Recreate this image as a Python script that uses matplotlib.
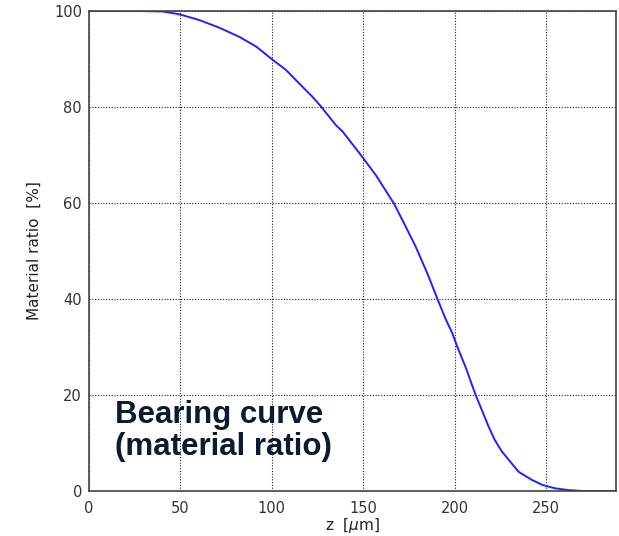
import matplotlib
matplotlib.use('Agg')
import matplotlib.pyplot as plt

z = [0, 28, 40.5, 49.6, 60.5, 71.4, 82.3, 91.4, 99.6, 107.8, 115, 122.3,
     126.9, 135.1, 138.7, 148.7, 156.9, 166.8, 173.2, 178.7, 185, 190.5,
     195, 198.6, 201.4, 205.9, 211.4, 218.6, 222, 225.9, 235, 242.3, 248.1,
     255, 262, 270, 289]
ratio = [100, 100, 99.9, 99.3, 98.1, 96.5, 94.6, 92.6, 90.1, 87.7, 84.9,
         82.1, 80.1, 76.2, 74.9, 70.0, 65.8, 59.9, 55.1, 50.9, 45.4, 40.1,
         35.9, 33.0, 30.1, 25.9, 20.1, 13.4, 10.6, 8.2, 4.0, 2.3, 1.25,
         0.56, 0.2, 0.0, 0.0]
xticks = [0, 50, 100, 150, 200, 250]
yticks = [0, 20, 40, 60, 80, 100]

fig = plt.figure(figsize=(6.19, 5.36), dpi=100)
ax = fig.add_axes([89 / 619, 45 / 536, 526.5 / 619, 480 / 536])

ax.plot(z, ratio, color='#2222ff', lw=1.4)
ax.set_xlim(0, 288)
ax.set_ylim(0, 100)
ax.set_xticks(xticks)
ax.set_yticks(yticks)
ax.grid(True, color='#222222', linestyle=(0, (1, 1.5)), lw=0.8)
ax.tick_params(length=0, labelsize=10.5, colors='#333333')
ax.tick_params(axis='x', pad=7)
ax.tick_params(axis='y', pad=5)
for s in ax.spines.values():
    s.set_color('#444444')
    s.set_linewidth(1.2)

ax.set_xlabel(r'z  [$\mu$m]', fontsize=11, color='#222222', labelpad=0)
ax.set_ylabel('Material ratio  [%]', fontsize=11, color='#222222', labelpad=9)

fig.text(115 / 619, 1 - 423 / 536, 'Bearing curve', fontsize=22.5,
         fontweight='bold', family='Liberation Sans', color='#0b1c30',
         va='baseline', ha='left')
fig.text(115 / 619, 1 - 455 / 536, '(material ratio)', fontsize=22.5,
         fontweight='bold', family='Liberation Sans', color='#0b1c30',
         va='baseline', ha='left')

fig.savefig('out.png', dpi=100)
